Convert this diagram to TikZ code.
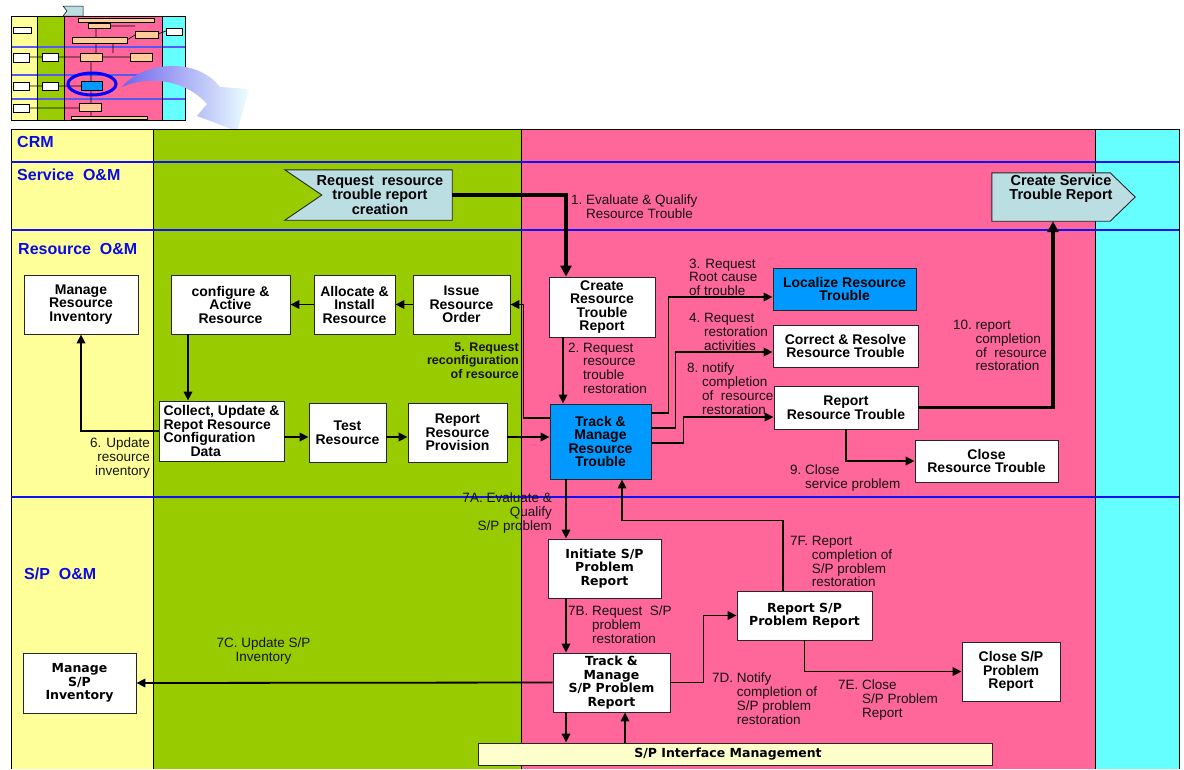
\documentclass[tikz,border=0pt]{standalone}
\usepackage{fontspec}
\setmainfont{Liberation Sans}
\newfontfamily\vbfont{DejaVu Sans}
\usetikzlibrary{arrows.meta}

\definecolor{laneyellow}{HTML}{FFFF99}
\definecolor{lanegreen}{HTML}{99CC00}
\definecolor{lanepink}{HTML}{FF6699}
\definecolor{lanecyan}{HTML}{66FFFF}
\definecolor{boxblue}{HTML}{0099FF}
\definecolor{bannerblue}{HTML}{BBDEE3}
\definecolor{ifacecol}{HTML}{FFFFCC}
\definecolor{laneblue}{HTML}{0A0AE6}
\definecolor{sepblue}{HTML}{1010F0}
\definecolor{minibox}{HTML}{FFCC99}
\definecolor{lblcol}{HTML}{141414}

% numbered step label: number, then indented continuation lines
\newcommand\steplab[2]{\begin{tabular}[t]{@{}l@{\ }l@{}}#1&#2\end{tabular}}
\newcommand\rlab[1]{\begin{tabular}[t]{@{}r@{}}#1\end{tabular}}

\tikzset{
  box/.style={draw=black!85, line width=0.9pt, fill=white, align=center, inner sep=0pt,
    font=\fontsize{14}{13.5}\selectfont\bfseries},
  vbox/.style={box, font=\vbfont\fontsize{12.5}{13.5}\selectfont\bfseries},
  bluebox/.style={box, fill=boxblue},
  banner/.style={inner sep=0pt},
  bannertext/.style={align=center, inner sep=0pt, font=\fontsize{14.5}{14.5}\selectfont\bfseries},
  lbl/.style={inner sep=0pt, text=lblcol, font=\fontsize{13.5}{13.3}\selectfont},
  lane/.style={inner sep=0pt, anchor=base west, text=laneblue, font=\fontsize{16}{18}\selectfont\bfseries},
  arr/.style={line width=1.8pt, -{Triangle[length=9pt,width=8.5pt]}},
  fatarr/.style={line width=3.6pt, -{Triangle[length=11pt,width=11pt]}},
  sepline/.style={sepblue, line width=2.8pt},
  minib/.style={draw=black, line width=0.5pt, fill=white},
  minio/.style={draw=black, line width=0.5pt, fill=minibox},
  miniline/.style={black, line width=0.6pt},
}

\begin{document}
\begin{tikzpicture}[x=1pt,y=-1pt]
\useasboundingbox (0,0) rectangle (1184,769);
\fill[white] (0,0) rectangle (1184,769);

% ---------- small overview map ----------
\fill[laneyellow] (11,16) rectangle (37,120);
\fill[lanegreen] (37,16) rectangle (64,120);
\fill[lanepink] (64,16) rectangle (162,120);
\fill[lanecyan] (162,16) rectangle (185,120);
\foreach \yy in {47,75,99} \draw[sepblue!70, line width=1.5pt] (11,\yy) -- (185,\yy);
\draw[black, line width=0.8pt] (11,16) rectangle (185,120);
\foreach \xx in {37,64,162} \draw[black, line width=0.6pt] (\xx,16) -- (\xx,120);
\draw[miniline] (29,57) -- (42,57) (58,57) -- (80,57) (29,86) -- (42,86) (58,86) -- (81,86)
  (29,108) -- (79,108) (96,22) -- (96,37) (96,43) -- (96,53) (91,61) -- (91,81)
  (91,90) -- (91,103) (91,111) -- (91,116) (102,57) -- (130,57) (127,40) -- (135,35)
  (158,34) -- (166,31) (110,26) -- (135,26) (113,43) -- (113,53);
\draw[draw=black, line width=0.5pt, fill=bannerblue] (63,6) -- (83,6) -- (83,16) -- (63,16) -- (67,11) -- cycle;
\draw[minib] (13,27) rectangle (31,33);
\draw[minib] (13,53) rectangle (29,62);
\draw[minib] (13,82) rectangle (29,90);
\draw[minib] (13,104) rectangle (29,112);
\draw[minib] (42,53) rectangle (58,61);
\draw[minib] (42,82) rectangle (58,90);
\draw[minib] (166,28) rectangle (182,35);
\draw[minio] (78,18) rectangle (154,22);
\draw[minio] (88,23) rectangle (110,28);
\draw[minio] (72,37) rectangle (127,43);
\draw[minio] (135,31) rectangle (158,38);
\draw[minio] (80,53) rectangle (102,61);
\draw[minio] (130,53) rectangle (152,61);
\draw[minio] (79,103) rectangle (101,111);
\draw[minio] (71,116) rectangle (147,119.5);
\draw[draw=black, line width=0.5pt, fill=boxblue] (81,81) rectangle (102,90);
\draw[blue, line width=3pt] (92,84) ellipse [x radius=24, y radius=11];

% curved pointer from the overview down to the detail
\shade[left color={rgb,255:red,112;green,100;blue,236}, right color={rgb,255:red,236;green,255;blue,255}]
  (122,87) .. controls (142,62) and (196,56) .. (220,87) -- (249,89) -- (237,131)
  -- (197,116) -- (207,104) .. controls (188,82) and (152,74) .. (122,87) -- cycle;

% ---------- swim lanes ----------
\fill[laneyellow] (11,129) rectangle (153,769);
\fill[lanegreen] (153,129) rectangle (521,769);
\fill[lanepink] (521,129) rectangle (1095,769);
\fill[lanecyan] (1095,129) rectangle (1179,769);
\draw[black, line width=0.9pt] (11,769) -- (11,129) -- (1179,129) -- (1179,769);
\foreach \xx in {153,521,1095} \draw[black, line width=0.9pt] (\xx,129) -- (\xx,769);
\foreach \yy in {162,230,497} \draw[sepline] (11,\yy) -- (1179,\yy);

\node[lane] at (17,147.5) {CRM};
\node[lane] at (17,180.5) {Service\ \ O\&M};
\node[lane] at (18,254.5) {Resource\ \ O\&M};
\node[lane] at (24,579.5) {S/P\ \ O\&M};

% ---------- process boxes ----------
\node[banner, minimum width=167, minimum height=50] (rrtc) at (368.5,195) {};
\draw[draw=black!85, line width=0.9pt, fill=bannerblue] (rrtc.north west) -- (rrtc.north east)
  -- (rrtc.south east) -- (rrtc.south west) -- ([xshift=37pt]rrtc.west) -- cycle;
\node[bannertext] at ([xshift=11.5pt]rrtc.center) {Request\ \ resource\\trouble report\\creation};

\node[banner, minimum width=143, minimum height=48] (cstr) at (1063.5,197) {};
\draw[draw=black!85, line width=0.9pt, fill=bannerblue] (cstr.north west) -- ([xshift=-25pt]cstr.north east)
  -- (cstr.east) -- ([xshift=-25pt]cstr.south east) -- (cstr.south west) -- cycle;
\node[bannertext] at ([xshift=-2.5pt,yshift=8.5pt]cstr.center) {Create Service\\Trouble Report};

\node[box, minimum width=114, minimum height=59] (mri) at (81,304.5) {Manage\\Resource\\Inventory};
\node[box, minimum width=119, minimum height=59] (car) at (230.5,304.5) {configure \&\\Active\\Resource};
\node[box, minimum width=81, minimum height=59] (ais) at (354.5,304.5) {Allocate \&\\Install\\Resource};
\node[box, minimum width=97, minimum height=59] (iro) at (461.5,304.5) {Issue\\Resource\\Order};
\node[box, minimum width=106, minimum height=60] (crtr) at (602,307) {Create\\Resource\\Trouble\\Report};
\node[bluebox, minimum width=143, minimum height=42] (lrt) at (844.5,289) {Localize Resource\\Trouble};
\node[box, minimum width=145, minimum height=42] (crrt) at (845.5,346) {Correct \& Resolve\\Resource Trouble};
\node[box, minimum width=144, minimum height=43] (rrt) at (846,407.5) {Report\\Resource Trouble};
\node[box, minimum width=143, minimum height=42] (clrt) at (986.5,461) {Close\\Resource Trouble};
\node[bluebox, minimum width=101, minimum height=75] (tmrt) at (600.5,441.5) {Track \&\\Manage\\Resource\\Trouble};
\node[box, minimum width=125, minimum height=60, align=left] (cur) at (221.5,431)
  {Collect, Update \&\\Repot Resource\\Configuration\\\hspace*{27pt}Data};
\node[box, minimum width=77, minimum height=59] (tr) at (347.5,432.5) {Test\\Resource};
\node[box, minimum width=99, minimum height=59] (rrp) at (457.5,432.5) {Report\\Resource\\Provision};

\node[vbox, minimum width=113, minimum height=59] (ispr) at (604.5,568.5) {Initiate S/P\\Problem\\Report};
\node[vbox, minimum width=135, minimum height=49] (rspr) at (804.5,615.5) {Report S/P\\Problem Report};
\node[vbox, minimum width=117, minimum height=59] (tmsp) at (611.5,682.5) {Track \&\\Manage\\S/P Problem\\Report};
\node[box, minimum width=98, minimum height=59] (cspr) at (1011,671.5) {Close S/P\\Problem\\Report};
\node[vbox, minimum width=113, minimum height=60] (msi) at (79.5,683) {Manage\\S/P\\Inventory};
\node[vbox, fill=ifacecol, minimum width=514, minimum height=22] (spim) at (735,754) {\hspace*{-14pt}S/P Interface Management};

% ---------- connectors ----------
\draw[fatarr] (rrtc.east) -| ([xshift=-36pt]crtr.north);
\coordinate (c2) at ([xshift=-39pt]crtr.south);
\draw[arr] (c2) -- (c2 |- tmrt.north);
\draw[arr] ([yshift=28.5pt]tmrt.east) -- ++(17,0) |- ([yshift=-8pt]lrt.west);
\draw[arr] ([yshift=13.5pt]tmrt.east) -- ++(24,0) |- ([yshift=-6pt]crrt.west);
\draw[arr] ([yshift=-1.5pt]tmrt.east) -- ++(32,0) |- ([yshift=-9.5pt]rrt.west);
\draw[arr] (rrt.south) |- (clrt.west);
\draw[fatarr] (rrt.east) -| ([xshift=-10.5pt]cstr.south);
\draw[arr] ([yshift=23.5pt]tmrt.west) -- ++(-26,0) |- (iro.east);
\draw[arr] (iro.west) -- (ais.east);
\draw[arr] (ais.west) -- (car.east);
\coordinate (c6) at ([xshift=-42.5pt]car.south);
\draw[arr] (c6) -- (c6 |- cur.north);
\draw[arr] (cur.west) -| (mri.south);
\coordinate (cA) at ([yshift=-6pt]cur.east);
\draw[arr] (cA) -- (cA -| tr.west);
\coordinate (cB) at ([yshift=-4.5pt]tr.east);
\draw[arr] (cB) -- (cB -| rrp.west);
\coordinate (cC) at ([yshift=-4.5pt]rrp.east);
\draw[arr] (cC) -- (cC -| tmrt.west);

\coordinate (c7a) at ([xshift=-34.5pt]tmrt.south);
\draw[arr] (c7a) -- (c7a |- ispr.north);
\coordinate (c7b) at ([xshift=-38.5pt]ispr.south);
\draw[arr] (c7b) -- (c7b |- tmsp.north);
\draw[arr] (tmsp.west) -- (msi.east);
\draw[arr] (tmsp.east) -- ++(33,0) |- (rspr.west);
\draw[arr] (rspr.south) |- (cspr.west);
\coordinate (c7f) at ([xshift=-21.5pt]rspr.north);
\draw[arr] (c7f) -- ++(0,-70) -| ([xshift=21.5pt]tmrt.south);
\coordinate (cd) at ([xshift=-45.5pt]tmsp.south);
\draw[arr] (cd) -- (cd |- spim.north);
\coordinate (cu) at ([xshift=13.5pt]tmsp.south);
\draw[arr] (cu |- spim.north) -- (cu);

% ---------- step labels ----------
\node[lbl, anchor=north west] (l1) at (571,195) {\steplab{1.}{Evaluate \& Qualify\\&Resource Trouble}};
\node[lbl, anchor=north west] (l2) at (568,343) {\steplab{2.}{Request\\&resource\\&trouble\\&restoration}};
\node[lbl, anchor=north west] (l3) at (689,259) {\begin{tabular}[t]{@{}l@{}}3. Request\\Root cause\\of trouble\end{tabular}};
\node[lbl, anchor=north west] (l4) at (689,313) {\steplab{4.}{Request\\&restoration\\&activities}};
\node[lbl, anchor=north west] (l8) at (687,363) {\steplab{8.}{notify\\&completion\\&of\ \ resource\\&restoration}};
\node[lbl, anchor=north west] (l9) at (790,465) {\steplab{9.}{Close\\&service problem}};
\node[lbl, anchor=north west] (l10) at (953,320) {\steplab{10.}{report\\&completion\\&of\ \ resource\\&restoration}};
\node[lbl, anchor=north east, font=\fontsize{12.5}{13.3}\selectfont\bfseries] (l5) at (519,342) {\rlab{5. Request\\reconfiguration\\of resource}};
\node[lbl, anchor=north east] (l6) at (150,438) {\rlab{6. Update\\resource\\inventory}};
\node[lbl, anchor=north east] (l7a) at (552,493) {\rlab{7A. Evaluate \&\\Qualify\\S/P problem}};
\node[lbl, anchor=north west] (l7b) at (568,606) {\steplab{7B.}{Request\ \ S/P\\&problem\\&restoration}};
\node[lbl, anchor=north] (l7c) at (263.5,638) {\begin{tabular}[t]{@{}c@{}}7C. Update S/P\\Inventory\end{tabular}};
\node[lbl, anchor=north west] (l7d) at (712,673) {\steplab{7D.}{Notify\\&completion of\\&S/P problem\\&restoration}};
\node[lbl, anchor=north west] (l7e) at (838,680) {\steplab{7E.}{Close\\&S/P Problem\\&Report}};
\node[lbl, anchor=north west] (l7f) at (790,536) {\steplab{7F.}{Report\\&completion of\\&S/P problem\\&restoration}};
\end{tikzpicture}
\end{document}
